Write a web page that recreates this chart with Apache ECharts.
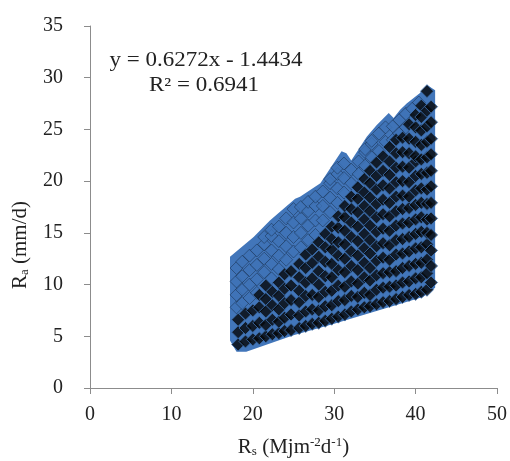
<!DOCTYPE html>
<html>
<head>
<meta charset="utf-8">
<script src="https://cdn.jsdelivr.net/npm/echarts@6/dist/echarts.min.js"></script>
<style>
  html, body { margin: 0; padding: 0; background: #fff; }
  #chart { width: 510px; height: 461px; }
</style>
</head>
<body>
<div id="chart"></div>
<script>
// Outline of the plotted cloud, traced clockwise (Rs, Ra)
const edgeRs = [17.2, 17.2, 20.1, 22.1, 25.2, 25.8, 28.3, 29.9, 30.9, 31.5, 32.1, 34.0, 35.2, 36.7, 37.3, 38.1, 38.9, 40.5, 41.4, 42.4, 42.4, 40.9, 35.0, 30.0, 25.0, 19.2, 18.0, 17.2];
const edgeRa = [5.2, 12.7, 14.6, 16.2, 18.3, 18.5, 19.8, 21.7, 22.9, 22.7, 22.0, 24.3, 25.4, 26.6, 26.1, 26.9, 27.5, 28.5, 29.3, 28.8, 9.7, 8.8, 7.4, 6.2, 5.1, 3.5, 3.5, 4.6];

// Solid markers, grouped by Rs column
const solidRs = [18.2, 19.1, 20.0, 20.8, 21.6, 22.4, 23.2, 23.9, 24.7, 25.7, 26.5, 27.3, 28.1, 28.9, 29.7, 30.5, 31.3, 32.1, 32.9, 33.7, 34.4, 35.2, 36.0, 36.8, 37.6, 38.4, 39.2, 40.0, 40.7, 41.4, 41.9];
const solidRa = [
  [4.2, 5.4, 6.6],
  [4.5, 5.8, 7.2],
  [4.7, 6.0, 7.5],
  [4.8, 6.3, 7.8, 9.0],
  [5.0, 6.1, 7.4, 8.6, 9.9],
  [5.2, 6.6, 8.0, 9.3],
  [5.3, 6.4, 7.6, 8.9, 10.2],
  [5.5, 6.8, 8.2, 9.6, 11.0],
  [5.6, 7.1, 8.5, 9.9, 11.3],
  [5.8, 7.0, 8.3, 9.4, 10.7, 12.0],
  [6.0, 7.4, 8.9, 10.2, 11.6, 12.9],
  [6.2, 7.6, 9.0, 10.6, 12.1, 13.4],
  [6.3, 7.5, 8.8, 10.0, 11.3, 12.7, 14.1],
  [6.5, 7.9, 9.3, 10.8, 12.2, 13.6, 14.9],
  [6.7, 8.0, 9.4, 10.7, 12.0, 13.4, 14.4, 15.6],
  [6.9, 8.4, 9.9, 11.4, 12.8, 14.1, 15.5, 16.6],
  [7.1, 8.5, 9.8, 11.2, 12.5, 13.9, 15.2, 16.5, 17.6],
  [7.4, 8.9, 10.3, 11.8, 13.2, 14.6, 16.0, 17.3, 18.5],
  [7.6, 8.8, 10.1, 11.4, 12.8, 14.2, 15.6, 17.0, 18.3, 19.4],
  [7.8, 9.2, 10.7, 12.1, 13.5, 14.9, 16.3, 17.6, 18.9, 20.2],
  [7.9, 9.0, 10.4, 11.6, 13.0, 14.3, 15.7, 17.1, 18.4, 19.8, 21.0],
  [8.1, 9.5, 10.9, 12.3, 13.7, 15.1, 16.5, 17.8, 19.2, 20.5, 21.8],
  [8.3, 9.7, 11.1, 12.6, 14.0, 15.4, 16.8, 18.2, 19.6, 21.0, 22.4],
  [8.4, 9.8, 11.2, 12.4, 13.8, 15.2, 16.6, 17.9, 19.3, 20.6, 21.9, 23.3],
  [8.6, 9.9, 11.3, 12.9, 14.3, 15.7, 17.1, 18.5, 19.9, 21.3, 22.7, 24.0],
  [8.8, 10.2, 11.6, 13.0, 14.4, 15.9, 17.3, 18.6, 20.0, 21.4, 22.8, 24.2],
  [9.0, 10.3, 11.8, 13.2, 14.6, 16.0, 17.4, 18.5, 19.9, 21.3, 22.7, 24.1, 25.5],
  [9.1, 10.6, 12.0, 13.5, 14.9, 16.3, 17.7, 19.1, 20.5, 21.9, 22.4, 23.8, 25.2, 26.4],
  [9.3, 10.7, 12.1, 13.6, 15.1, 16.5, 17.9, 19.3, 20.7, 22.1, 23.5, 24.9, 26.2, 27.3],
  [9.5, 11.1, 12.4, 13.9, 15.0, 16.3, 17.8, 19.2, 20.8, 22.3, 23.8, 25.3, 26.8, 28.7],
  [10.2, 11.8, 13.3, 14.8, 16.4, 17.9, 19.5, 21.0, 22.6, 24.1, 25.7, 27.2]
];

// Overlapped markers toward the upper edge, grouped by Rs column
const faintRs = [18.0, 18.7, 19.6, 20.5, 21.4, 22.3, 23.2, 24.1, 25.0, 25.9, 26.8, 27.7, 28.6, 29.5, 30.4, 31.2, 32.1, 33.0, 33.8, 34.6, 35.5, 36.3, 37.2, 38.0, 38.8, 39.6, 40.4];
const faintRa = [
  [7.8, 9.0, 10.3, 11.6],
  [8.2, 9.5, 10.8, 12.2],
  [8.7, 10.0, 11.4, 12.8],
  [9.2, 10.5, 11.9, 13.3],
  [11.2, 12.5, 13.9, 14.6],
  [10.6, 12.0, 13.3, 14.7, 15.3],
  [11.5, 12.8, 14.2, 15.6],
  [12.4, 13.7, 15.0, 16.4],
  [13.2, 14.6, 16.0, 17.3],
  [13.6, 15.0, 16.4, 17.5],
  [14.3, 15.7, 17.1, 18.0],
  [14.8, 16.2, 17.6, 18.5],
  [16.2, 17.6, 19.0],
  [17.0, 18.4, 19.8, 20.2],
  [17.9, 19.3, 20.7, 21.3],
  [18.9, 20.3, 21.7],
  [19.8, 21.1],
  [20.7, 21.9],
  [21.5, 22.8, 23.1],
  [22.3, 23.6, 23.9],
  [22.9, 24.6],
  [23.8, 25.2],
  [24.0, 25.3],
  [24.6, 25.9],
  [25.2, 26.5],
  [25.8, 27.0],
  [26.6, 27.6]
];

const xTicks = [0, 10, 20, 30, 40, 50];
const yTicks = [0, 5, 10, 15, 20, 25, 30, 35];
const fitText = 'y = 0.6272x - 1.4434';
const r2Text = 'R² = 0.6941';

const pairs = (xs, cols) => {
  const out = [];
  xs.forEach((x, i) => cols[i].forEach(y => out.push([x, y])));
  return out;
};
const edge = edgeRs.map((x, i) => [x, edgeRa[i]]);

const serif = '"Liberation Serif", "Times New Roman", serif';
const axisGray = '#8c8c8c';
const ink = '#222';

const chart = echarts.init(document.getElementById('chart'));
chart.setOption({
  animation: false,
  grid: { left: 90, right: 13, top: 26, bottom: 73, outerBoundsMode: 'none', containLabel: false },
  xAxis: {
    type: 'value', min: xTicks[0], max: xTicks[xTicks.length - 1], interval: 10,
    splitLine: { show: false },
    axisLine: { lineStyle: { color: axisGray, width: 1 } },
    axisTick: { length: 6, lineStyle: { color: axisGray } },
    axisLabel: { color: ink, fontFamily: serif, fontSize: 20, margin: 17 },
    name: '{b|R}{s|s}{b| (Mjm}{p|-2}{b|d}{p|-1}{b|)}',
    nameLocation: 'middle', nameGap: 48,
    nameTextStyle: {
      rich: {
        b: { fontFamily: serif, fontSize: 21, color: ink },
        s: { fontFamily: serif, fontSize: 13, color: ink, verticalAlign: 'bottom', padding: [9, 0, 0, 0] },
        p: { fontFamily: serif, fontSize: 13, color: ink, verticalAlign: 'top', padding: [0, 0, 9, 0] }
      }
    }
  },
  yAxis: {
    type: 'value', min: yTicks[0], max: yTicks[yTicks.length - 1], interval: 5,
    splitLine: { show: false },
    axisLine: { show: true, lineStyle: { color: axisGray, width: 1 } },
    axisTick: { show: true, length: 6, lineStyle: { color: axisGray } },
    axisLabel: { color: ink, fontFamily: serif, fontSize: 20, margin: 27 }
  },
  graphic: [
    {
      type: 'text', x: 20, y: 245, rotation: Math.PI / 2,
      style: {
        text: '{b|R}{s|a}{b| (mm/d)}',
        align: 'center', verticalAlign: 'middle',
        rich: {
          b: { fontFamily: serif, fontSize: 21, fill: ink },
          s: { fontFamily: serif, fontSize: 13, fill: ink, verticalAlign: 'bottom', padding: [9, 0, 0, 0] }
        }
      }
    },
    {
      type: 'text', x: 206, y: 61, scaleX: 1.15,
      style: { text: fitText, font: '20px ' + serif, fill: ink, align: 'center', verticalAlign: 'middle' }
    },
    {
      type: 'text', x: 204, y: 86, scaleX: 1.15,
      style: { text: r2Text, font: '20px ' + serif, fill: ink, align: 'center', verticalAlign: 'middle' }
    }
  ],
  series: [
    {
      type: 'custom',
      data: edge,
      silent: true,
      renderItem: (params, api) => {
        if (params.dataIndex !== 0) return null;
        return {
          type: 'polygon',
          shape: { points: edge.map(p => api.coord(p)) },
          style: { fill: '#4276ba' }
        };
      },
      z: 1
    },
    {
      type: 'scatter',
      data: pairs(faintRs, faintRa),
      symbol: 'diamond', symbolSize: 13,
      itemStyle: { color: '#3f73b7', borderColor: 'rgba(10,20,36,0.6)', borderWidth: 0.8 },
      z: 2
    },
    {
      type: 'scatter',
      data: pairs(solidRs, solidRa),
      symbol: 'diamond', symbolSize: 13,
      itemStyle: { color: '#050608', borderColor: '#3f72b2', borderWidth: 1 },
      z: 3
    }
  ]
});
</script>
</body>
</html>
